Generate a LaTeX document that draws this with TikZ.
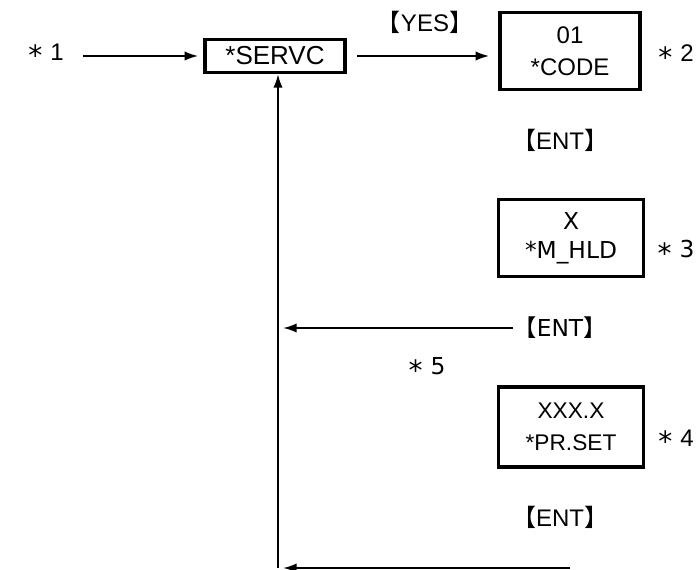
\documentclass[tikz,border=0pt]{standalone}
\usepackage{fontspec}
\setmainfont{Liberation Sans}
\newfontfamily\dvs{DejaVu Sans}
\newfontfamily\cjk{Noto Sans CJK JP}
\usetikzlibrary{positioning,arrows.meta}
\newcommand{\key}[1]{{\cjk 【}#1{\cjk 】}}
\newcommand{\note}[1]{\raisebox{-4pt}{\dvs\fontsize{21}{21}\selectfont *}\hspace{6pt}#1}
\tikzset{
  panel/.style = {rectangle, draw, line width=2.6pt, align=center,
                  inner sep=0pt, minimum width=109pt},
  flow/.style  = {-{Latex[length=10pt,width=7pt]}, line width=1.1pt},
  lbl/.style   = {inner sep=0pt},
  dv/.style    = {font=\dvs\fontsize{17.5}{21}\selectfont},
}

\begin{document}
\begin{tikzpicture}[x=0.75pt,y=-0.75pt,font=\fontsize{18}{21}\selectfont]
  \useasboundingbox (0,0) rectangle (700,570);
  % main menu
  \node[lbl] (st1) at (46,55) {\note{1}};
  \node[panel, minimum width=105pt, minimum height=25pt, font=\fontsize{19.5}{22}\selectfont] (servc) at (275,56) {*SERVC};
  \node[lbl] (yes) at (425,22) {\key{YES}};
  \node[panel, minimum width=105pt, minimum height=58pt] (code) at (570,51) {01\\[3pt]*CODE};
  \node[lbl] (st2) at (676,56) {\note{2}};
  \node[lbl] (ent1) at (560,140) {\key{ENT}};
  \node[panel, minimum height=58pt, dv] (mhld) at (571,238) {X\\[1pt]*M\_HLD};
  \node[lbl, dv] (st3) at (676,252) {\note{3}};
  \node[lbl, dv] (ent2) at (560,328) {\key{ENT}};
  \node[lbl, dv] (st5) at (427,369) {\note{5}};
  \node[panel, minimum height=60pt, font=\fontsize{17}{20}\selectfont] (prset) at (571,427) {XXX.X\\[4pt]*PR.SET};
  \node[lbl] (st4) at (676,441) {\note{4}};
  \node[lbl] (ent3) at (560,517) {\key{ENT}};
  % return path
  \coordinate (bot) at (570,568);
  \coordinate (corner) at (278,568);

  \draw[flow] ([xshift=14pt]st1.east |- servc.west) -- ([xshift=-4pt]servc.west);
  \draw[flow] ([xshift=8pt]servc.east) -- ([xshift=-7pt]servc.east -| code.west);
  \draw[flow] (ent2.west) -- ([xshift=4pt]ent2.west -| corner);
  \draw[flow] (bot) -- ([xshift=4pt]corner);
  \draw[flow] (corner) -- (corner |- servc.south);
\end{tikzpicture}
\end{document}
